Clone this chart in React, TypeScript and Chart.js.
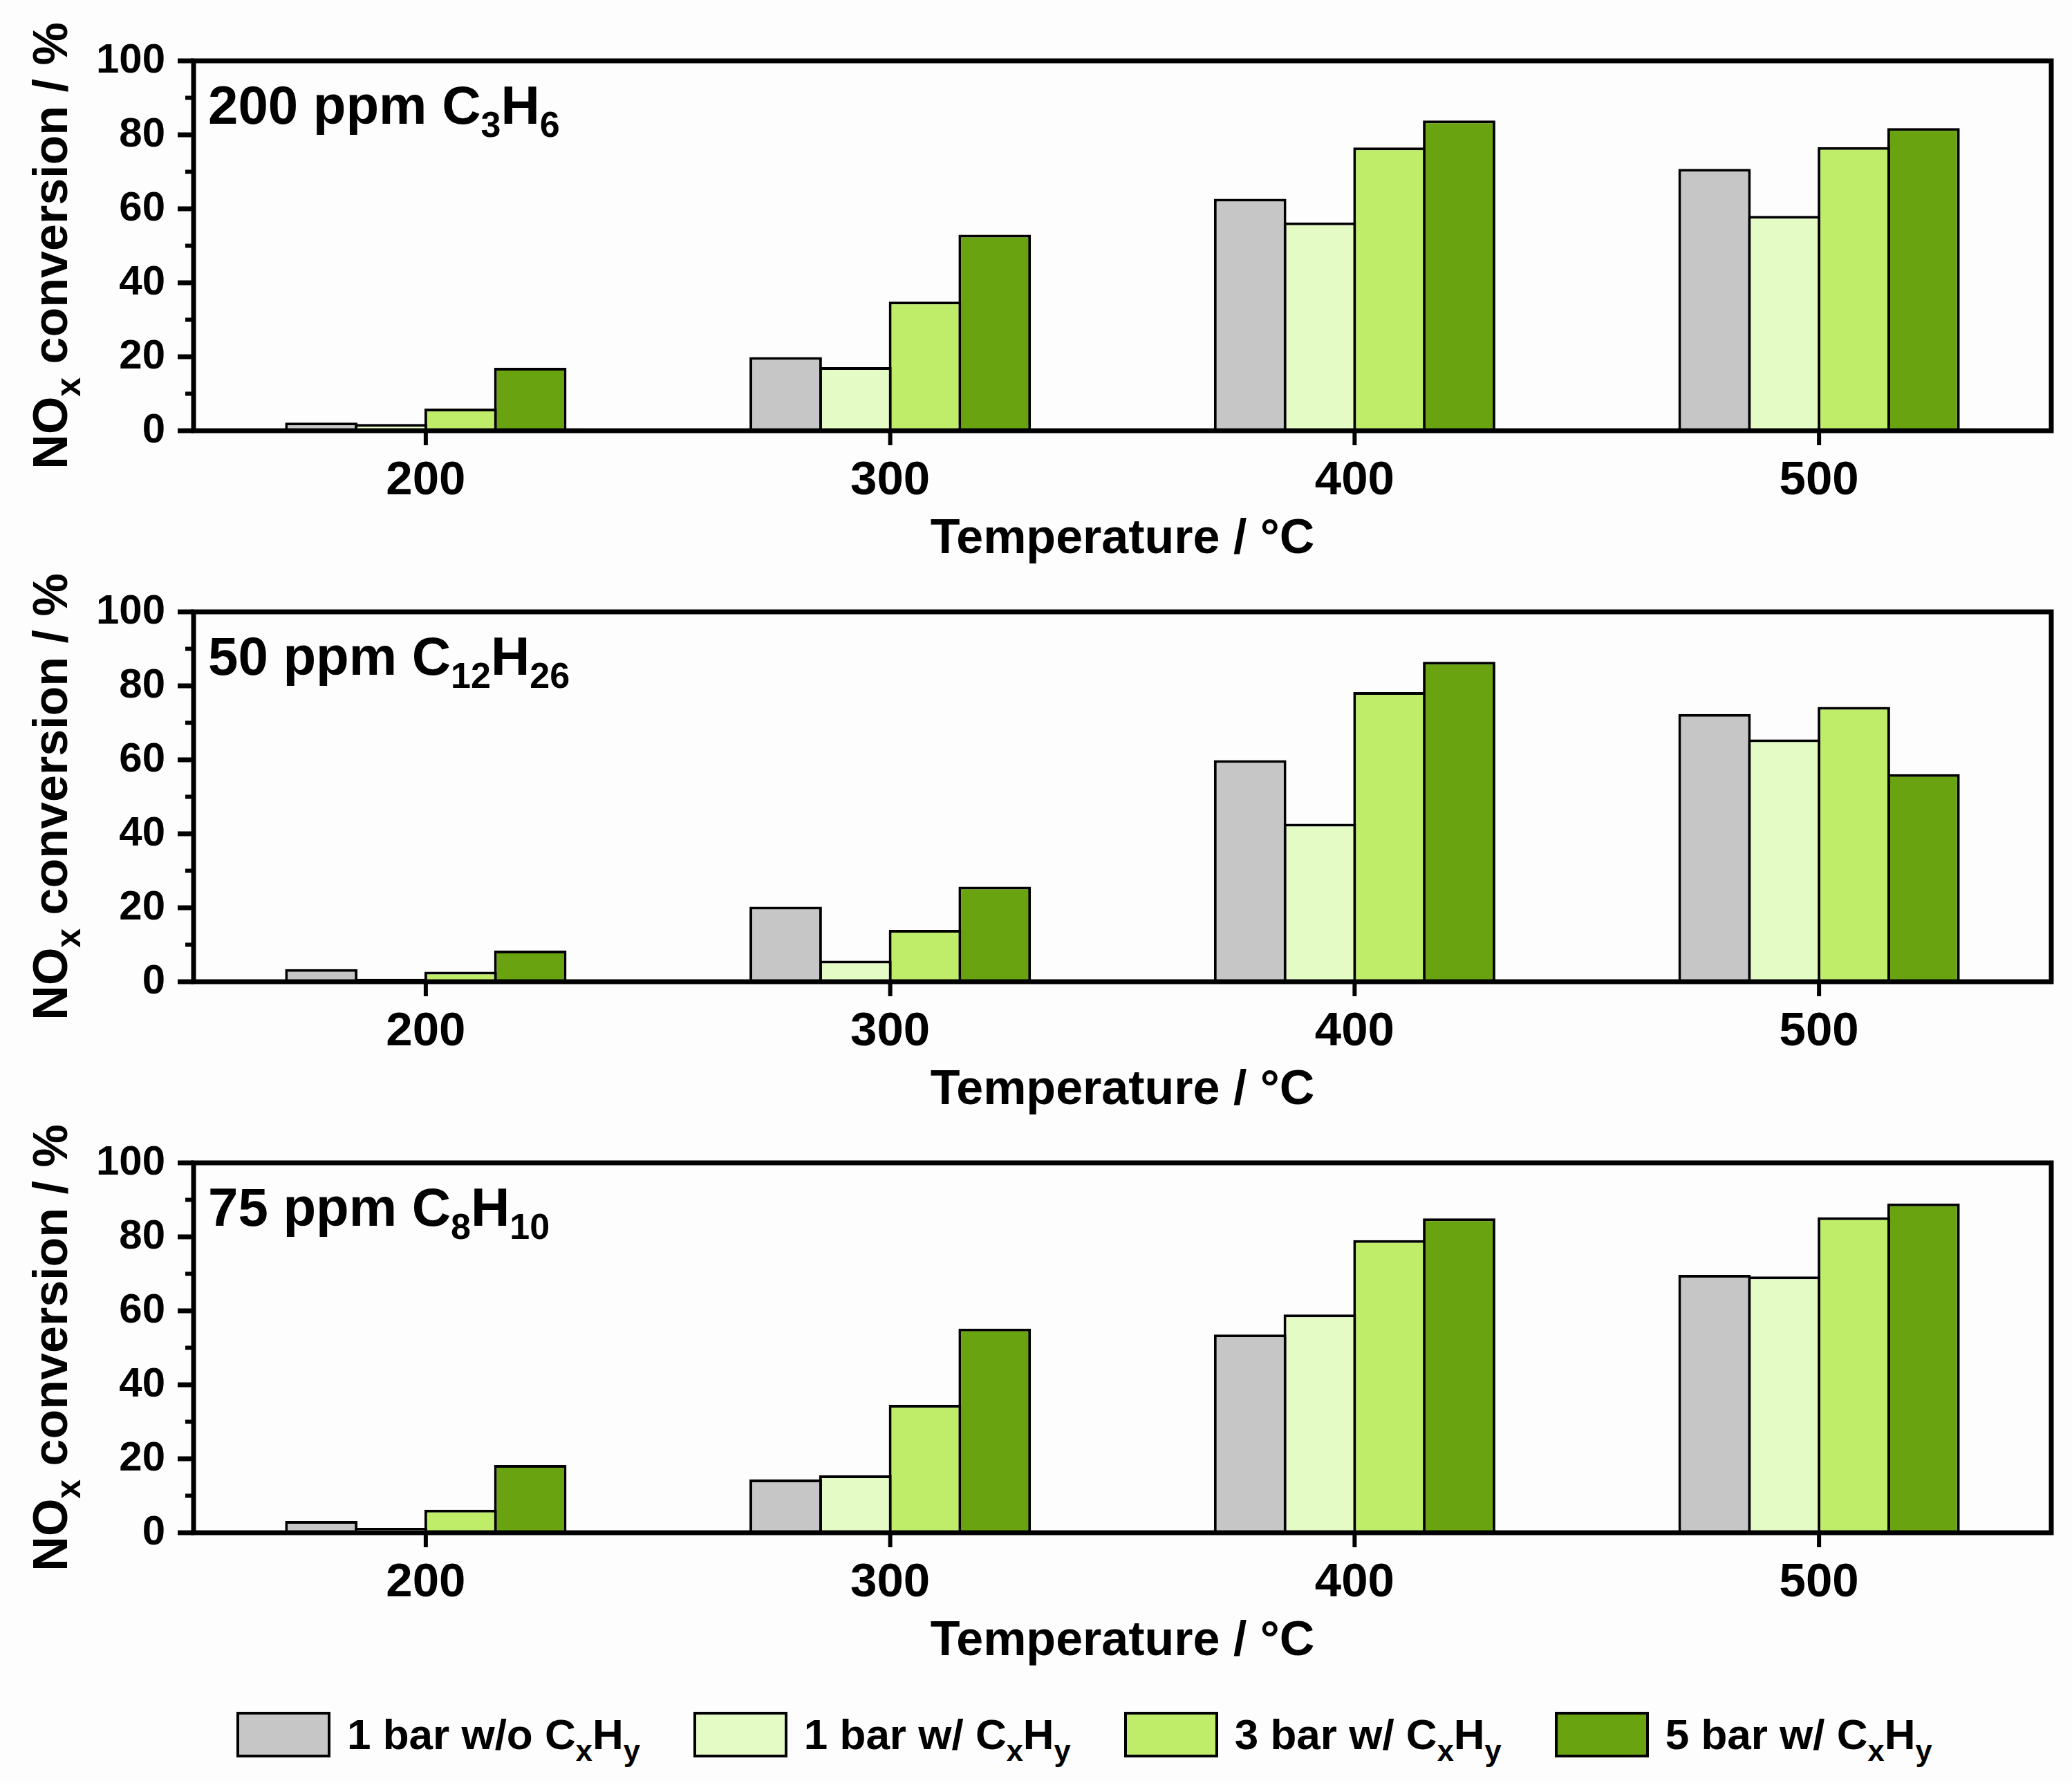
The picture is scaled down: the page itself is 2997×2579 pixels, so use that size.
import React, { useEffect, useRef } from 'react';
import { Chart, registerables } from 'chart.js';

Chart.register(...registerables);

// ---------- data ----------
const temperatures = ['200', '300', '400', '500'];

const seriesPrefixes = ['1 bar w/o', '1 bar w/', '3 bar w/', '5 bar w/'];
const seriesColors = ['#c6c6c6', '#e5fbc5', '#bfed6a', '#69a410'];

// Panel 1: 200 ppm C3H6
const c3h6NoHc1bar = [2.2, 19.9, 62.7, 70.8];
const c3h6Hc1bar = [1.8, 17.2, 56.3, 58.1];
const c3h6Hc3bar = [6.0, 34.9, 76.6, 76.7];
const c3h6Hc5bar = [17.0, 53.0, 83.9, 81.8];

// Panel 2: 50 ppm C12H26
const c12h26NoHc1bar = [3.4, 20.3, 59.9, 72.4];
const c12h26Hc1bar = [0.8, 5.7, 42.7, 65.5];
const c12h26Hc3bar = [2.7, 14.0, 78.3, 74.3];
const c12h26Hc5bar = [8.4, 25.7, 86.5, 56.1];

// Panel 3: 75 ppm C8H10
const c8h10NoHc1bar = [3.2, 14.4, 53.6, 69.7];
const c8h10Hc1bar = [1.3, 15.5, 59.0, 69.3];
const c8h10Hc3bar = [6.2, 34.6, 79.1, 85.3];
const c8h10Hc5bar = [18.3, 55.2, 85.0, 89.0];

const panelSeries = [
  [c3h6NoHc1bar, c3h6Hc1bar, c3h6Hc3bar, c3h6Hc5bar],
  [c12h26NoHc1bar, c12h26Hc1bar, c12h26Hc3bar, c12h26Hc5bar],
  [c8h10NoHc1bar, c8h10Hc1bar, c8h10Hc3bar, c8h10Hc5bar],
];

const panelConcentrations = ['200 ppm', '50 ppm', '75 ppm'];
const panelFormulas: [string, string][][] = [
  [['C', '3'], ['H', '6']],
  [['C', '12'], ['H', '26']],
  [['C', '8'], ['H', '10']],
];

const yMajorTicks = [0, 20, 40, 60, 80, 100];
const yMinorTicks = [10, 30, 50, 70, 90];

const xTitle = 'Temperature / °C';
const yTitleParts = [
  { t: 'NO', sub: false },
  { t: 'x', sub: true },
  { t: ' conversion / %', sub: false },
];

// ---------- layout ----------
const FONT = "'Liberation Sans', Arial, Helvetica, sans-serif";
const W = 2997;
const H = 2579;
const PANEL_STEP = 797;
const CANVAS_H = 850;
const AREA_TOP = 88;
const AREA_BOTTOM = 623;
const AREA_LEFT = 280;
const AREA_RIGHT_PAD = 30;

type Part = { t: string; sub: boolean };

function drawParts(
  ctx: CanvasRenderingContext2D,
  parts: Part[],
  x: number,
  y: number,
  size: number,
  subSize: number,
  subOffset: number,
  align: 'left' | 'center'
) {
  const widths = parts.map((p) => {
    ctx.font = `bold ${p.sub ? subSize : size}px ${FONT}`;
    return ctx.measureText(p.t).width;
  });
  const total = widths.reduce((a, b) => a + b, 0);
  let cx = align === 'center' ? x - total / 2 : x;
  ctx.textAlign = 'left';
  ctx.textBaseline = 'alphabetic';
  ctx.fillStyle = '#000';
  parts.forEach((p, i) => {
    ctx.font = `bold ${p.sub ? subSize : size}px ${FONT}`;
    ctx.fillText(p.t, cx, y + (p.sub ? subOffset : 0));
    cx += widths[i];
  });
}

function makeDecorPlugin(panelIndex: number) {
  return {
    id: 'decor' + panelIndex,
    afterDraw(chart: any) {
      const ctx: CanvasRenderingContext2D = chart.ctx;
      const { left, right, top, bottom } = chart.chartArea;
      const xs = chart.scales.x;
      const ys = chart.scales.y;
      ctx.save();
      ctx.strokeStyle = '#000';
      // frame
      ctx.lineWidth = 7;
      ctx.lineJoin = 'miter';
      ctx.strokeRect(left, top, right - left, bottom - top);
      // y ticks
      ctx.lineCap = 'butt';
      yMajorTicks.forEach((v) => {
        const py = ys.getPixelForValue(v);
        ctx.lineWidth = 7;
        ctx.beginPath();
        ctx.moveTo(left - 23, py);
        ctx.lineTo(left, py);
        ctx.stroke();
      });
      yMinorTicks.forEach((v) => {
        const py = ys.getPixelForValue(v);
        ctx.lineWidth = 6;
        ctx.beginPath();
        ctx.moveTo(left - 12, py);
        ctx.lineTo(left, py);
        ctx.stroke();
      });
      // x ticks
      temperatures.forEach((_, i) => {
        const px = xs.getPixelForValue(i);
        ctx.lineWidth = 6;
        ctx.beginPath();
        ctx.moveTo(px, bottom);
        ctx.lineTo(px, bottom + 21);
        ctx.stroke();
      });
      // x title
      drawParts(ctx, [{ t: xTitle, sub: false }], (left + right) / 2, bottom + 177, 70, 70, 0, 'center');
      // y title
      ctx.save();
      ctx.translate(97, (top + bottom) / 2);
      ctx.rotate(-Math.PI / 2);
      drawParts(ctx, yTitleParts, 0, 0, 70, 50, 19, 'center');
      ctx.restore();
      // panel label
      const labelParts: Part[] = [{ t: panelConcentrations[panelIndex] + ' ', sub: false }];
      panelFormulas[panelIndex].forEach(([el, n]) => {
        labelParts.push({ t: el, sub: false });
        labelParts.push({ t: n, sub: true });
      });
      drawParts(ctx, labelParts, left + 21, top + 91, 78, 52, 19, 'left');
      ctx.restore();
    },
  };
}

function Panel({ index }: { index: number }) {
  const ref = useRef<HTMLCanvasElement>(null);
  useEffect(() => {
    if (!ref.current) return;
    const series = panelSeries[index];
    const chart = new Chart(ref.current, {
      type: 'bar',
      data: {
        labels: temperatures,
        datasets: series.map((d, i) => ({
          label: seriesPrefixes[i] + ' CxHy',
          data: d,
          backgroundColor: seriesColors[i],
          borderColor: '#000',
          borderWidth: 4,
          barPercentage: 1.04,
          categoryPercentage: 0.6,
        })),
      },
      options: {
        animation: false,
        responsive: false,
        devicePixelRatio: 1,
        layout: { padding: { top: AREA_TOP, left: 0, right: AREA_RIGHT_PAD, bottom: 0 } },
        plugins: { legend: { display: false }, tooltip: { enabled: false } },
        scales: {
          x: {
            type: 'category',
            offset: true,
            grid: { display: false, drawTicks: false },
            border: { display: false },
            ticks: {
              color: '#000',
              padding: 32,
              font: { family: FONT, size: 69, weight: 'bold' },
              maxRotation: 0,
            },
            afterFit: (scale: any) => {
              scale.height = CANVAS_H - AREA_BOTTOM;
            },
          },
          y: {
            min: 0,
            max: 100,
            grid: { display: false, drawTicks: false },
            border: { display: false },
            ticks: {
              stepSize: 20,
              color: '#000',
              padding: 41,
              font: { family: FONT, size: 60, weight: 'bold' },
            },
            afterFit: (scale: any) => {
              scale.width = AREA_LEFT;
            },
          },
        },
      },
      plugins: [makeDecorPlugin(index)],
    } as any);
    return () => chart.destroy();
  }, [index]);
  return (
    <canvas
      ref={ref}
      width={W}
      height={CANVAS_H}
      style={{ position: 'absolute', left: 0, top: index * PANEL_STEP, width: W, height: CANVAS_H }}
    />
  );
}

function Legend() {
  const subStyle: React.CSSProperties = {
    fontSize: '0.7em',
    position: 'relative',
    top: 17,
    lineHeight: 0,
    verticalAlign: 'baseline',
  };
  return (
    <div
      style={{
        position: 'absolute',
        left: 342,
        top: 2476,
        height: 66,
        display: 'flex',
        alignItems: 'center',
        gap: 77,
        fontFamily: FONT,
        fontWeight: 'bold',
        fontSize: 62,
        lineHeight: 1,
        color: '#000',
        whiteSpace: 'nowrap',
      }}
    >
      {seriesPrefixes.map((p, i) => (
        <div key={i} style={{ display: 'flex', alignItems: 'center', height: 66 }}>
          <div
            style={{
              width: 136,
              height: 66,
              boxSizing: 'border-box',
              border: '4px solid #000',
              background: seriesColors[i],
              marginRight: 24,
            }}
          />
          <span style={{ lineHeight: 1 }}>
            {p} C<span style={subStyle}>x</span>H<span style={subStyle}>y</span>
          </span>
        </div>
      ))}
    </div>
  );
}

export default function App() {
  return (
    <div
      style={{
        position: 'absolute',
        left: 0,
        top: 0,
        width: W,
        height: H,
        background: '#fdfdfd',
        overflow: 'hidden',
      }}
    >
      {panelSeries.map((_, i) => (
        <Panel key={i} index={i} />
      ))}
      <Legend />
    </div>
  );
}
